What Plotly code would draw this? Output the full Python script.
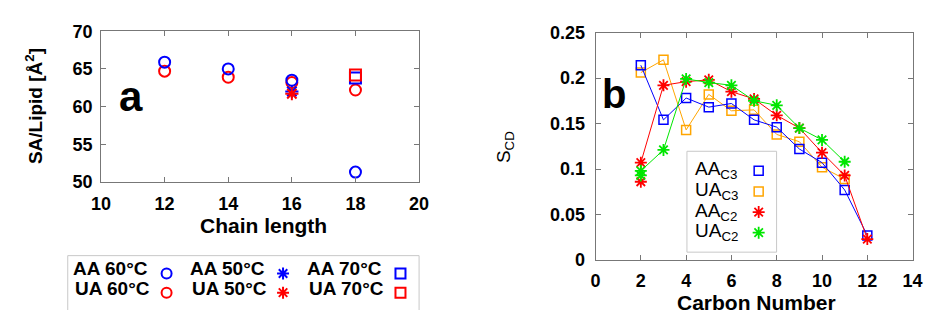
import plotly.graph_objects as go

W, H = 937, 320

# ---- panel a: area per lipid vs. chain length ----
chain = [12, 14, 16, 18]
aa_60 = [65.9, 65.0, 63.5, 51.3]
ua_60 = [64.7, 63.9, 63.2, 62.2]
chain_50 = [16]
aa_50 = [62.0]
ua_50 = [61.7]
chain_70 = [18]
aa_70 = [63.8]
ua_70 = [64.2]

# ---- panel b: order-parameter profiles ----
carbon = [2, 3, 4, 5, 6, 7, 8, 9, 10, 11, 12]
carbon_to11 = [2, 3, 4, 5, 6, 7, 8, 9, 10, 11]
aa_c3 = [0.214, 0.154, 0.178, 0.168, 0.172, 0.154, 0.146, 0.122, 0.107, 0.077, 0.027]
ua_c3 = [0.206, 0.220, 0.143, 0.182, 0.164, 0.165, 0.138, 0.130, 0.102, 0.089]
aa_c2 = [0.107, 0.192, 0.196, 0.198, 0.185, 0.177, 0.159, 0.145, 0.118, 0.093, 0.023]
ua_c2 = [0.098, 0.121, 0.199, 0.195, 0.192, 0.175, 0.170, 0.145, 0.132, 0.108]
# second hydrogen at C2 (split signal)
split_x = [2]
aa_c2_split = [0.086]
ua_c2_split = [0.093]

BLUE = "#0000ff"
RED = "#ff0000"
ORANGE = "#ffa500"
GREEN = "#00e600"
AXC = "#777777"
FONT = "Liberation Sans"

fig = go.Figure()


def pts(x, y, symbol, color, size, lw, ax="x", ay="y", mode="markers"):
    fig.add_trace(go.Scatter(
        x=x, y=y, mode=mode, xaxis=ax, yaxis=ay, showlegend=False,
        hoverinfo="skip", cliponaxis=False,
        marker=dict(symbol=symbol, size=size, color=color,
                    line=dict(width=lw, color=color)),
        line=dict(width=1, color=color)))


# panel a marks
pts(chain, ua_60, "circle-open", RED, 11, 2)
pts(chain, aa_60, "circle-open", BLUE, 11, 2)
pts(chain_50, aa_50, "asterisk-open", BLUE, 11, 2)
pts(chain_50, ua_50, "asterisk-open", RED, 11, 2)
pts(chain_70, aa_70, "square-open", BLUE, 11, 2)
pts(chain_70, ua_70, "square-open", RED, 11, 2)

# panel b marks
pts(carbon_to11, ua_c3, "square-open", ORANGE, 9, 1.5, "x2", "y2", "lines+markers")
pts(carbon, aa_c3, "square-open", BLUE, 9, 1.5, "x2", "y2", "lines+markers")
pts(carbon, aa_c2, "asterisk-open", RED, 10, 1.8, "x2", "y2", "lines+markers")
pts(carbon_to11, ua_c2, "asterisk-open", GREEN, 10, 1.8, "x2", "y2", "lines+markers")
pts(split_x, aa_c2_split, "asterisk-open", RED, 10, 1.8, "x2", "y2")
pts(split_x, ua_c2_split, "asterisk-open", GREEN, 10, 1.8, "x2", "y2")

# legend swatches, placed on a pixel-scaled overlay axis
leg_a = [
    ("circle-open", BLUE, 160, 281), ("circle-open", RED, 160, 301.5),
    ("asterisk-open", BLUE, 279, 281), ("asterisk-open", RED, 279, 301.5),
    ("square-open", BLUE, 399, 281), ("square-open", RED, 399, 301.5),
]
for sym, col, px, py in leg_a:
    pts([px], [py], sym, col, 10, 2, "x3", "y3")

leg_b = [
    ("square-open", BLUE, 765, 171.5, 9, 1.5),
    ("square-open", ORANGE, 765, 193.5, 9, 1.5),
    ("asterisk-open", RED, 765, 215.5, 10, 1.8),
    ("asterisk-open", GREEN, 765, 237.5, 10, 1.8),
]
for sym, col, px, py, sz, lw in leg_b:
    pts([px], [py], sym, col, sz, lw, "x3", "y3")

tickfont = dict(family=FONT, size=18, color="black", weight="bold")


def frame(domain, rng, vals, texts, anchor, **kw):
    d = dict(domain=domain, range=rng, anchor=anchor, tickvals=vals,
             ticktext=texts, ticks="inside", ticklen=5, tickwidth=1,
             tickcolor=AXC, showline=True, linecolor=AXC, linewidth=1,
             mirror="ticks", showgrid=False, zeroline=False,
             tickfont=tickfont)
    d.update(kw)
    return d


fig.update_layout(
    width=W, height=H, margin=dict(l=0, r=0, t=0, b=0),
    paper_bgcolor="white", plot_bgcolor="rgba(0,0,0,0)",
    xaxis=frame([93 / W, 418 / W], [10, 20], [10, 12, 14, 16, 18, 20],
                ["10", "12", "14", "16", "18", "20"], "y", ticklabelstandoff=6),
    yaxis=frame([1 - 183.3 / H, 1 - 22.7 / H], [50, 70], [50, 55, 60, 65, 70],
                ["50", "55", "60", "65", "70"], "x", ticklabelstandoff=4),
    xaxis2=frame([598.3 / W, 922.3 / W], [0, 14], [0, 2, 4, 6, 8, 10, 12, 14],
                 ["0", "2", "4", "6", "8", "10", "12", "14"], "y2",
                 ticklabelstandoff=4),
    yaxis2=frame([1 - 266.7 / H, 1 - 24 / H], [0, 0.25],
                 [0, 0.05, 0.1, 0.15, 0.2, 0.25],
                 ["0", "0.05", "0.1", "0.15", "0.2", "0.25"], "x2",
                 ticklabelstandoff=6),
    xaxis3=dict(domain=[0, 1], range=[0, W], anchor="y3", visible=False,
                fixedrange=True),
    yaxis3=dict(domain=[0, 1], range=[H, 0], anchor="x3", visible=False,
                fixedrange=True),
)

# legend frames
fig.add_shape(type="rect", xref="x3", yref="y3", x0=59, x1=418, y0=262, y1=330,
              line=dict(color="#c8c8c8", width=1))
fig.add_shape(type="rect", xref="x3", yref="y3", x0=691.7, x1=783.3, y0=150.7,
              y1=258.3, line=dict(color="#c8c8c8", width=1))


def label(text, x, y, size, bold=True, angle=0, xanchor="center"):
    fig.add_annotation(text=text, x=x, y=y, xref="x3", yref="y3",
                       showarrow=False, textangle=angle, xanchor=xanchor,
                       yanchor="middle",
                       font=dict(family=FONT, size=size, color="black",
                                 weight="bold" if bold else "normal"))


# axis titles
label("Chain length", 259, 230, 21)
label("SA/Lipid [Å<sup>2</sup>]", 24, 102, 19, angle=-90)
label("Carbon Number", 763, 311.5, 21)
label("S<sub>CD</sub>", 506, 146, 19, bold=False, angle=-90)

# panel letters
label("a", 124, 92, 42)
label("b", 617, 90, 40)

# legend texts, panel a
leg_a_text = [
    ("AA 60°C", 102.5, 276), ("UA 60°C", 104.5, 297.5),
    ("AA 50°C", 222.5, 276), ("UA 50°C", 224, 297.5),
    ("AA 70°C", 342, 276), ("UA 70°C", 343.5, 297.5),
]
for t, x, y in leg_a_text:
    label(t, x, y, 19)

# legend texts, panel b
leg_b_text = [
    ("AA<sub>C3</sub>", 171), ("UA<sub>C3</sub>", 193),
    ("AA<sub>C2</sub>", 215), ("UA<sub>C2</sub>", 237),
]
for t, y in leg_b_text:
    label(t, 698, y, 19, bold=False, xanchor="left")

fig.write_html("out.html")
